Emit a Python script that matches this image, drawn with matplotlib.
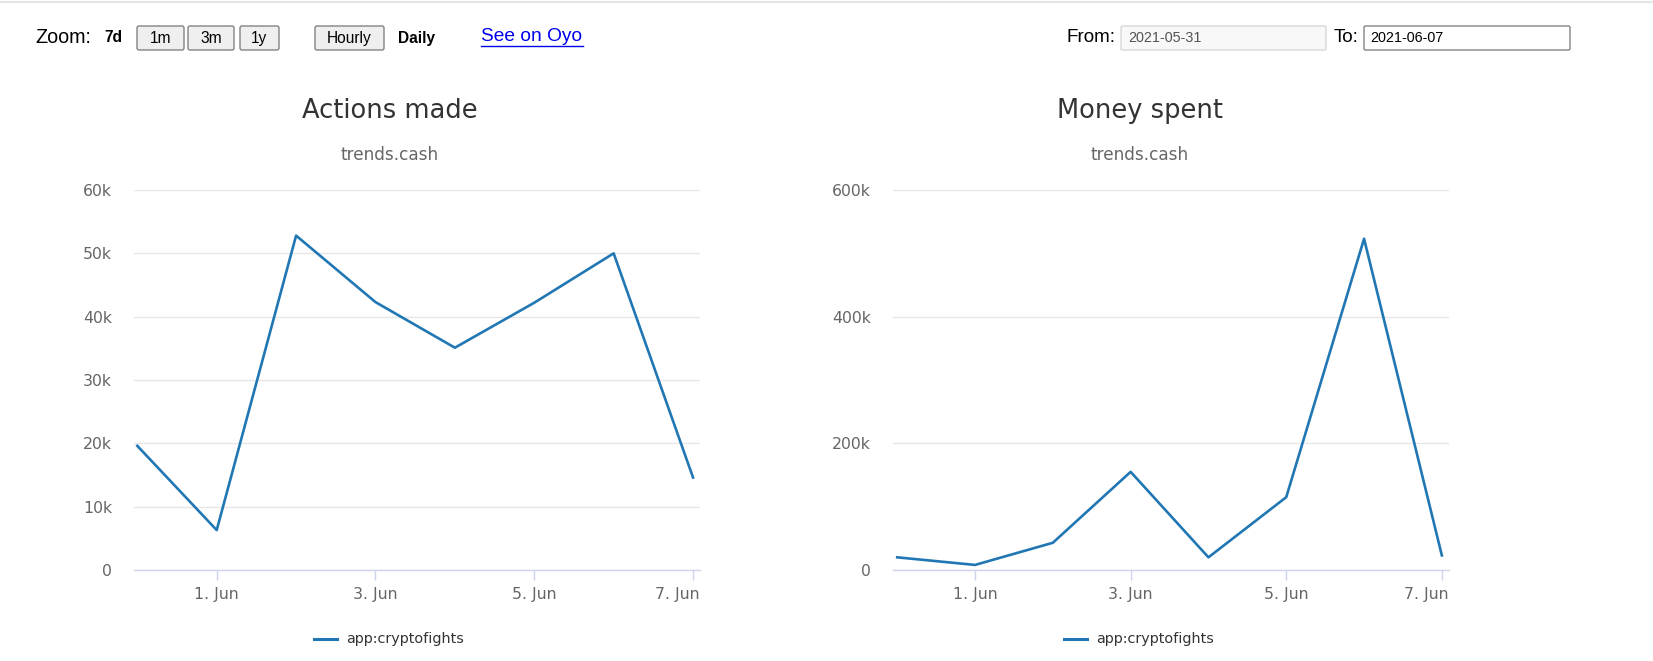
import matplotlib
matplotlib.use("Agg")
import matplotlib.pyplot as plt
import matplotlib.dates as mdates
import matplotlib.transforms as mtransforms
from matplotlib.patches import FancyBboxPatch
import numpy as np

# data
dates = np.array(["2021-05-31", "2021-06-01", "2021-06-02", "2021-06-03",
                  "2021-06-04", "2021-06-05", "2021-06-06", "2021-06-07"],
                 dtype="datetime64[D]")
actions = [19600, 6300, 52800, 42300, 35100, 42200, 50000, 14600]
money = [20000, 8000, 43000, 155000, 20000, 115000, 523000, 23000]
series_name = "app:cryptofights"
titles = ["Actions made", "Money spent"]
subtitle = "trends.cash"
zoom_buttons = ["1m", "3m", "1y"]
date_from = "2021-05-31"
date_to = "2021-06-07"

W, H = 1653, 661
PT = 72 / 100  # points per pixel at dpi 100
LINE = "#2177b4"
CHART_FONT = "DejaVu Sans"
UI_FONT = "Liberation Sans"

fig = plt.figure(figsize=(W / 100, H / 100), dpi=100)

# overlay axes in pixel coordinates for the page toolbar and headings
ov = fig.add_axes([0, 0, 1, 1], zorder=5)
ov.set_xlim(0, W)
ov.set_ylim(H, 0)
ov.axis("off")
ov.patch.set_alpha(0)

ov.plot([0, W], [1.5, 1.5], color="#e6e6e6", lw=1.5)


def button(x0, x1, label):
    ov.add_patch(FancyBboxPatch((x0, 26), x1 - x0, 24,
                                boxstyle="round,pad=0,rounding_size=2",
                                fc="#efefef", ec="#767676", lw=0.9))
    ov.text((x0 + x1) / 2, 38.5, label, ha="center", va="center",
            fontsize=11.2, family=UI_FONT, color="black")


ov.text(35, 37.5, "Zoom:", ha="left", va="center", fontsize=14.2, family=UI_FONT)
ov.text(104, 38, "7d", ha="left", va="center", fontsize=11.2, family=UI_FONT,
        weight="bold")
for (x0, x1), lab in zip([(137, 184), (188, 234), (240, 279)], zoom_buttons):
    button(x0, x1, lab)
button(315, 384, "Hourly")
ov.text(398, 38, "Daily", ha="left", va="center", fontsize=11.2,
        family=UI_FONT, weight="bold")
ov.text(481, 36.5, "See on Oyo", ha="left", va="center", fontsize=13.8,
        family=UI_FONT, color="#0000ee")
ov.plot([481, 583], [46, 46], color="#0000ee", lw=1)

ov.text(1067, 37.5, "From:", ha="left", va="center", fontsize=13.6,
        family=UI_FONT)
ov.add_patch(FancyBboxPatch((1121, 26), 205, 24,
                            boxstyle="round,pad=0,rounding_size=1.5",
                            fc="#f8f8f8", ec="#d4d4d4", lw=0.9))
ov.text(1128, 38, date_from, ha="left", va="center", fontsize=10.4,
        family=UI_FONT, color="#545454")
ov.text(1334, 37.5, "To:", ha="left", va="center", fontsize=13.6,
        family=UI_FONT)
ov.add_patch(FancyBboxPatch((1364, 26), 206, 24,
                            boxstyle="round,pad=0,rounding_size=1.5",
                            fc="white", ec="#767676", lw=0.9))
ov.text(1370, 38, date_to, ha="left", va="center", fontsize=10.4,
        family=UI_FONT, color="black")

# chart panels: (plot left px, plot right px, title centre px, values,
#                y ticks, right edge of y labels px, x padding in hours)
panels = [
    (134, 700, 390, actions, np.arange(0, 60001, 10000), 112, (1.0, 2.1)),
    (893, 1449, 1140, money, np.arange(0, 600001, 200000), 871, (1.3, 2.2)),
]
top_px, bottom_px = 190, 570

for i, (x0, x1, cx, vals, yticks, lab_x, xpad) in enumerate(panels):
    ax = fig.add_axes([x0 / W, 1 - bottom_px / H, (x1 - x0) / W,
                       (bottom_px - top_px) / H])
    ax.plot(dates, vals, color=LINE, lw=1.9, solid_joinstyle="round")
    ax.set_ylim(0, yticks[-1])
    ax.set_yticks(yticks)
    ax.set_yticklabels(["0" if v == 0 else f"{v // 1000}k" for v in yticks])
    minute = np.timedelta64(1, "m")
    ax.set_xlim(dates[0] - int(xpad[0] * 60) * minute,
                dates[-1] + int(xpad[1] * 60) * minute)
    ax.xaxis.set_major_locator(mdates.DayLocator(bymonthday=[1, 3, 5, 7]))
    ax.xaxis.set_major_formatter(mdates.DateFormatter("%-d. %b"))

    ax.grid(axis="y", color="#e6e6e6", lw=1)
    ax.set_axisbelow(True)
    for s in ["top", "right", "left"]:
        ax.spines[s].set_visible(False)
    ax.spines["bottom"].set_color("#ccd6eb")
    ax.spines["bottom"].set_linewidth(1)
    ax.spines["bottom"].set_zorder(0.5)
    ax.tick_params(axis="x", colors="#ccd6eb", length=10 * PT, width=1,
                   labelcolor="#666666", labelsize=11.3, pad=7 * PT)
    ax.tick_params(axis="y", length=0, labelcolor="#666666", labelsize=11.3,
                   pad=(x0 - lab_x) * PT)
    for t in ax.get_xticklabels() + ax.get_yticklabels():
        t.set_family(CHART_FONT)

    # the last date label is pulled in so it ends at the axis end
    fig.canvas.draw()
    last = ax.get_xticklabels()[-1]
    tick_px = ax.transData.transform((mdates.date2num(dates[-1]), 0))[0]
    end_px = ax.transAxes.transform((1, 0))[0]
    last.set_horizontalalignment("right")
    last.set_transform(last.get_transform() + mtransforms.ScaledTranslation(
        (end_px - tick_px) / 100, 0, fig.dpi_scale_trans))

    ov.text(cx, 110.5, titles[i], ha="center", va="center", fontsize=18.5,
            family=CHART_FONT, color="#333333")
    ov.text(cx, 155.5, subtitle, ha="center", va="center", fontsize=12.2,
            family=CHART_FONT, color="#666666")

    # legend item
    lx = cx - 76
    ov.plot([lx, lx + 23], [639, 639], color=LINE, lw=2.2)
    ov.text(lx + 32, 639, series_name, ha="left", va="center", fontsize=10.4,
            family=CHART_FONT, color="#333333")

fig.savefig("out.png", dpi=100)
